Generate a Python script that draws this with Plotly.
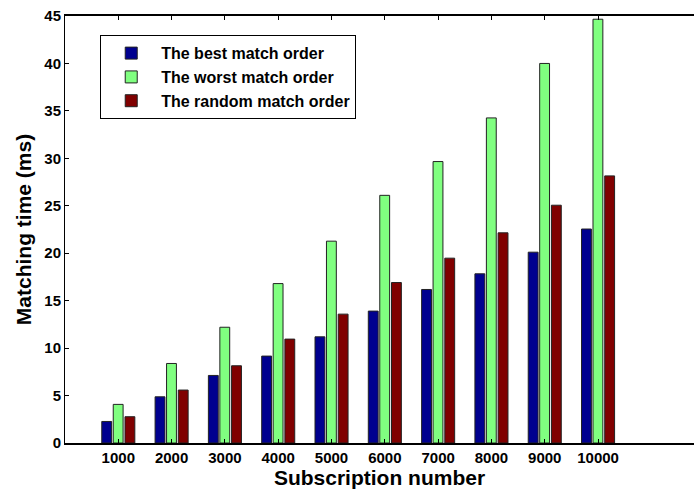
import plotly.graph_objects as go

categories = ["1000", "2000", "3000", "4000", "5000", "6000", "7000", "8000", "9000", "10000"]
best = [2.27, 4.87, 7.12, 9.16, 11.19, 13.9, 16.18, 17.83, 20.11, 22.55]
worst = [4.07, 8.38, 12.2, 16.8, 21.27, 26.1, 29.66, 34.26, 40.0, 44.66]
random_order = [2.77, 5.58, 8.14, 10.95, 13.58, 16.91, 19.48, 22.15, 25.06, 28.15]
series_names = ["The best match order", "The worst match order", "The random match order"]
y_ticks = [0, 5, 10, 15, 20, 25, 30, 35, 40, 45]

FONT = "Liberation Sans, Arial, Helvetica, sans-serif"
colors = ["#00008F", "#80FF80", "#800000"]
offsets = [-0.31, -0.095, 0.125]
bw = 0.185

fig = go.Figure()
for name, vals, c, off in zip(series_names, [best, worst, random_order], colors, offsets):
    fig.add_trace(go.Bar(
        x=categories, y=vals, name=name,
        marker=dict(color=c, line=dict(color="#222222", width=1)),
        width=bw, offset=off,
    ))

fig.update_layout(
    width=694, height=490,
    margin=dict(l=65, r=0, t=16, b=47),
    plot_bgcolor="white", paper_bgcolor="white",
    barmode="overlay",
    showlegend=True,
    legend=dict(
        x=0.056, y=0.955, xanchor="left", yanchor="top",
        bordercolor="black", borderwidth=1, bgcolor="white",
        font=dict(family=FONT, size=16, color="black", weight="bold"),
        itemwidth=50, tracegroupgap=0,
    ),
    font=dict(family=FONT, color="black"),
)
fig.update_xaxes(
    type="category", categoryorder="array", categoryarray=categories,
    range=[-1, 10.8], automargin=False,
    showline=True, linecolor="black", linewidth=2, mirror="ticks",
    ticks="inside", ticklen=4, tickcolor="black",
    tickfont=dict(family=FONT, size=15, color="black", weight="bold"),
    title=dict(text="Subscription number", font=dict(family=FONT, size=21, color="black", weight="bold"), standoff=2),
    showgrid=False, zeroline=False,
)
fig.update_yaxes(
    range=[0, 45], tickvals=y_ticks, automargin=False,
    showline=True, linecolor="black", linewidth=1,
    ticks="inside", ticklen=4, tickcolor="black",
    tickfont=dict(family=FONT, size=15, color="black", weight="bold"),
    title=dict(text="Matching time (ms)", font=dict(family=FONT, size=21, color="black", weight="bold"), standoff=6),
    showgrid=False, zeroline=False,
)

fig.write_html(
    "out.html",
    config={"displayModeBar": False},
    post_script="document.body.style.margin='0';document.body.style.overflow='hidden';",
)
